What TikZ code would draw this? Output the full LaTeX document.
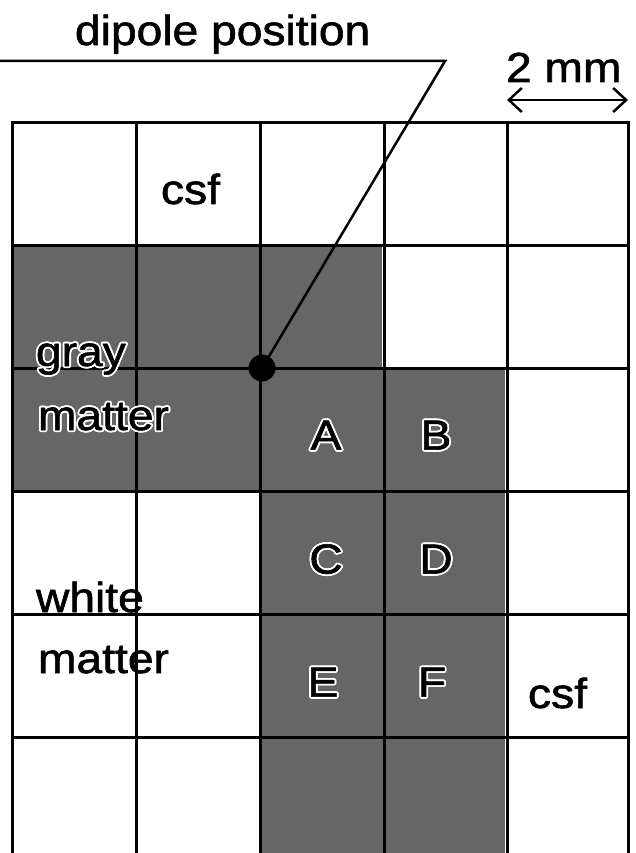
\documentclass[tikz,border=0pt]{standalone}
\usepackage{fontspec}
\setmainfont{Liberation Sans}[FakeStretch=1.1,FakeBold=1.4]
\usepackage{contour}
\contourlength{1.8pt}
\contournumber{16}
\usetikzlibrary{arrows.meta}
\tikzset{
  gridline/.style={line width=3pt, black},
  shade/.style={fill=black!60, draw=none},
  lbl/.style={font=\fontsize{42}{42}\selectfont, inner sep=0pt, outer sep=0pt},
  leader/.style={line width=2.5pt, black},
  scalearrow/.style={line width=2.5pt, {Straight Barb[length=13pt,width=24pt,line width=2.5pt]}-{Straight Barb[length=13pt,width=24pt,line width=2.5pt]}},
}
\newcommand{\hl}[1]{\contour{white}{#1}}
\begin{document}
\begin{tikzpicture}[x=1pt,y=-1pt]
\useasboundingbox (0,0) rectangle (635,853);
\fill[white] (0,0) rectangle (635,853);
% shaded cells
\foreach \c/\r in {0/1,1/1,2/1,0/2,1/2,2/2,3/2,2/3,3/3,2/4,3/4,2/5,3/5}{
  \pgfmathsetmacro{\xa}{12+123.3*\c}
  \pgfmathsetmacro{\ya}{123+122.8*\r}
  \fill[shade] (\xa,\ya) rectangle ++(123.3,122.8);
}
\fill[white] (0,853) rectangle (635,860);
% grid
\foreach \x in {12,136,260,384,507,628}{
  \draw[gridline] (\x,121.5) -- (\x,853);
}
\foreach \y in {123,245,368,491,614,737}{
  \draw[gridline] (10.5,\y) -- (629.5,\y);
}
% labels
\node[lbl, anchor=base west] (title) at (75,45) {dipole position};
\node[lbl, anchor=base west] (scale) at (506,82) {2 mm};
\node[lbl, anchor=base west] (csftop) at (161,204) {csf};
\node[lbl, anchor=base west] (gray) at (36,366) {\hl{gray}};
\node[lbl, anchor=base west] (gmatter) at (38,430) {\hl{matter}};
\node[lbl, anchor=base west] (white) at (36,612) {white};
\node[lbl, anchor=base west] (wmatter) at (38,673) {matter};
\node[lbl, anchor=base west] (csfbot) at (528,708) {csf};
\node[lbl] (A) at (326,436) {\hl{A}};
\node[lbl] (B) at (436,436) {\hl{B}};
\node[lbl] (C) at (326,560) {\hl{C}};
\node[lbl] (D) at (436,560) {\hl{D}};
\node[lbl] (E) at (323,683) {\hl{E}};
\node[lbl] (F) at (432,683) {\hl{F}};
% leader and dipole
\node[circle, fill=black, minimum size=27pt, inner sep=0pt] (dot) at (262,368) {};
\coordinate (lstart) at (0,61);
\coordinate (lknee) at (445,61);
\draw[leader] (lstart) -- (lknee) -- (dot.center);
% scale arrow
\coordinate (arrL) at (507,100);
\coordinate (arrR) at (628,100);
\draw[scalearrow] (arrL) -- (arrR);
\end{tikzpicture}
\end{document}
